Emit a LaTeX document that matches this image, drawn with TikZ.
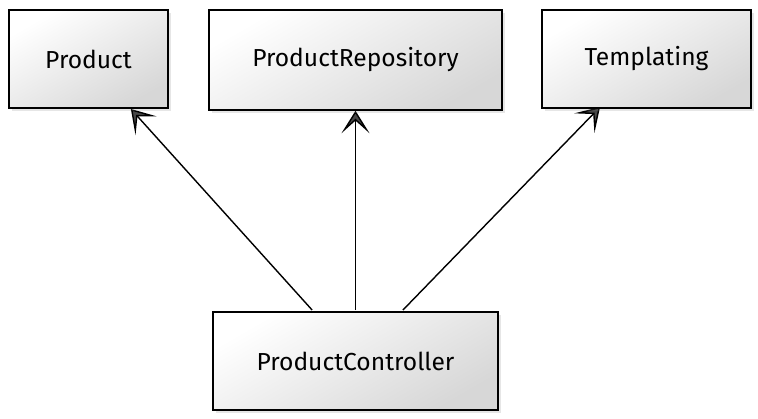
\documentclass[tikz,border=0pt]{standalone}
\usepackage{fontspec}
\setmainfont{Fira Sans}
\usetikzlibrary{arrows.meta}
\usetikzlibrary{shadows}
\pgfdeclarelayer{edgelayer}
\pgfdeclarelayer{nodelayer}
\pgfsetlayers{edgelayer,nodelayer,main}
\definecolor{boxgray}{RGB}{215,215,215}
\definecolor{tipgray}{RGB}{70,70,70}
\tikzstyle{none}=[inner sep=0pt]
\tikzstyle{class}=[rectangle,draw=black,line width=1.1pt,top color=white,bottom color=boxgray,shading angle=30,drop shadow={opacity=0.2,shadow xshift=2pt,shadow yshift=-2pt},minimum height=2.45cm,font=\fontsize{17.5}{20}\selectfont]
\tikzstyle{dependency}=[-{Stealth[inset=9pt,length=16pt,width=20pt,fill=tipgray,line join=miter]},draw=black,line width=1pt]

\begin{document}
\begin{tikzpicture}
	\useasboundingbox (0, 0) rectangle (18.95, 10.475);
	\begin{pgfonlayer}{nodelayer}
		\node [style=class, minimum width=3.975cm] (0) at (2.2125, 9) {Product};
		\node [style=class, minimum width=7.325cm, minimum height=2.5cm] (1) at (8.8875, 8.975) {ProductRepository};
		\node [style=class, minimum width=5.225cm] (2) at (16.1625, 9) {Templating};
		\node [style=class, minimum width=7.125cm] (3) at (8.8875, 1.45) {ProductController};
		\node [style=none] (4) at (7.825, 2.7) {};
		\node [style=none] (5) at (8.8875, 2.7) {};
		\node [style=none] (6) at (10.05, 2.7) {};
		\node [style=none] (7) at (3.25, 7.775) {};
		\node [style=none] (8) at (15.025, 7.825) {};
	\end{pgfonlayer}
	\begin{pgfonlayer}{edgelayer}
		\draw [style=dependency] (4) to (7);
		\draw [style=dependency] (5) to (1.south);
		\draw [style=dependency] (6) to (8);
	\end{pgfonlayer}
\end{tikzpicture}
\end{document}
